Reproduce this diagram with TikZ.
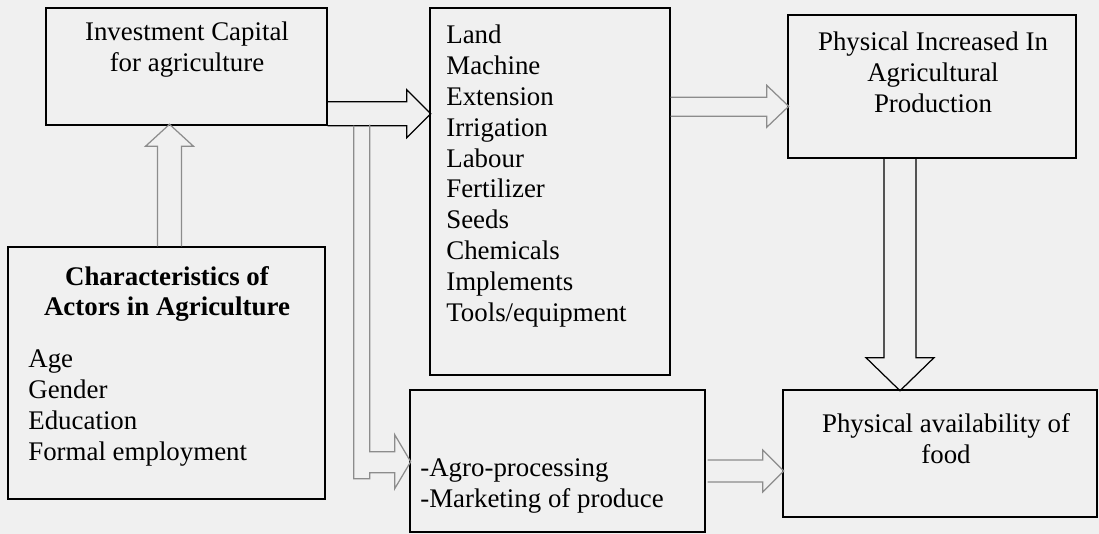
\documentclass[tikz,border=0pt]{standalone}
\usepackage{fontspec}
\setmainfont{Liberation Serif}
\usetikzlibrary{calc,positioning,fit}
\definecolor{scangray}{HTML}{F0F0F0}
\definecolor{arrowgray}{HTML}{8C8C8C}
\tikzset{
  box/.style={draw=black,line width=0.8pt,inner sep=0pt},
  txt/.style={inner sep=0pt,font=\fontsize{15.3}{17.6}\selectfont},
  karrow/.style={draw=black,line width=0.7pt},
  garrow/.style={draw=arrowgray,line width=0.7pt}
}

\begin{document}
\begin{tikzpicture}[x=0.02cm,y=-0.02cm]
\fill[scangray] (0,0) rectangle (1099,534);
\useasboundingbox (0,0) rectangle (1099,534);

% boxes
\node[box,fit={(46,8) (327,125)}] (inv) {};
\node[box,fit={(8,247) (325,499)}] (actors) {};
\node[box,fit={(430,8) (670,375)}] (inputs) {};
\node[box,fit={(788,15) (1076,158)}] (prod) {};
\node[box,fit={(783,390) (1097,517)}] (food) {};
\node[box,fit={(410,390) (705,532)}] (agro) {};

% texts
\node[txt,align=center] (invtxt) at (187,50) {Investment Capital\\for agriculture};
\node[txt,align=center,font=\fontsize{15.3}{17.6}\selectfont\bfseries] (actorstitle) at (167,294)
  {Characteristics of\\Actors in Agriculture};
\node[txt,align=left,anchor=west] (actorslist) at (28,408)
  {Age\\Gender\\Education\\Formal employment};
\node[txt,align=left,anchor=west] (inputslist) at (446,176)
  {Land\\Machine\\Extension\\Irrigation\\Labour\\Fertilizer\\Seeds\\Chemicals\\Implements\\Tools/equipment};
\node[txt,align=center] (prodtxt) at (933,72) {Physical Increased In\\Agricultural\\Production};
\node[txt,align=center] (foodtxt) at (946,439) {Physical availability of\\food};
\node[txt,align=left,anchor=west] (agrotxt) at (420,486) {-Agro-processing\\-Marketing of produce};

% block arrows
\draw[garrow] ($(actors.north)+(-9,0)$) -- ++(0,-100) -- ++(-12,0) --
      ++(24,-22) -- ++(24,22) -- ++(-12,0) -- ++(0,100);
\draw[karrow] (inv.south east) -- ++(79,0) -- ++(0,12) -- ++(24,-24) --
      ++(-24,-24) -- ++(0,12) -- ++(-79,0);
\draw[garrow] ($(inv.south east)+(26,0)$) -- ++(0,353) -- ++(16,0) -- ++(0,-6) --
      ++(25,0) -- ++(0,16) -- ++(16,-27) -- ++(-16,-27) -- ++(0,17) --
      ++(-25,0) -- ++(0,-327);
\draw[garrow] ($(inputs.north east)+(0,109)$) -- ++(96,0) -- ++(0,11) --
      ++(22,-21) -- ++(-22,-21) -- ++(0,12) -- ++(-96,0);
\draw[karrow] ($(prod.south)+(-48,0)$) -- ++(0,199) -- ++(-18,0) --
      ++(34,33) -- ++(34,-33) -- ++(-18,0) -- ++(0,-199);
\draw[garrow] ($(agro.east)+(2,21)$) -- ++(55,0) -- ++(0,10) --
      ++(21,-21) -- ++(-21,-21) -- ++(0,10) -- ++(-55,0);
\end{tikzpicture}
\end{document}
